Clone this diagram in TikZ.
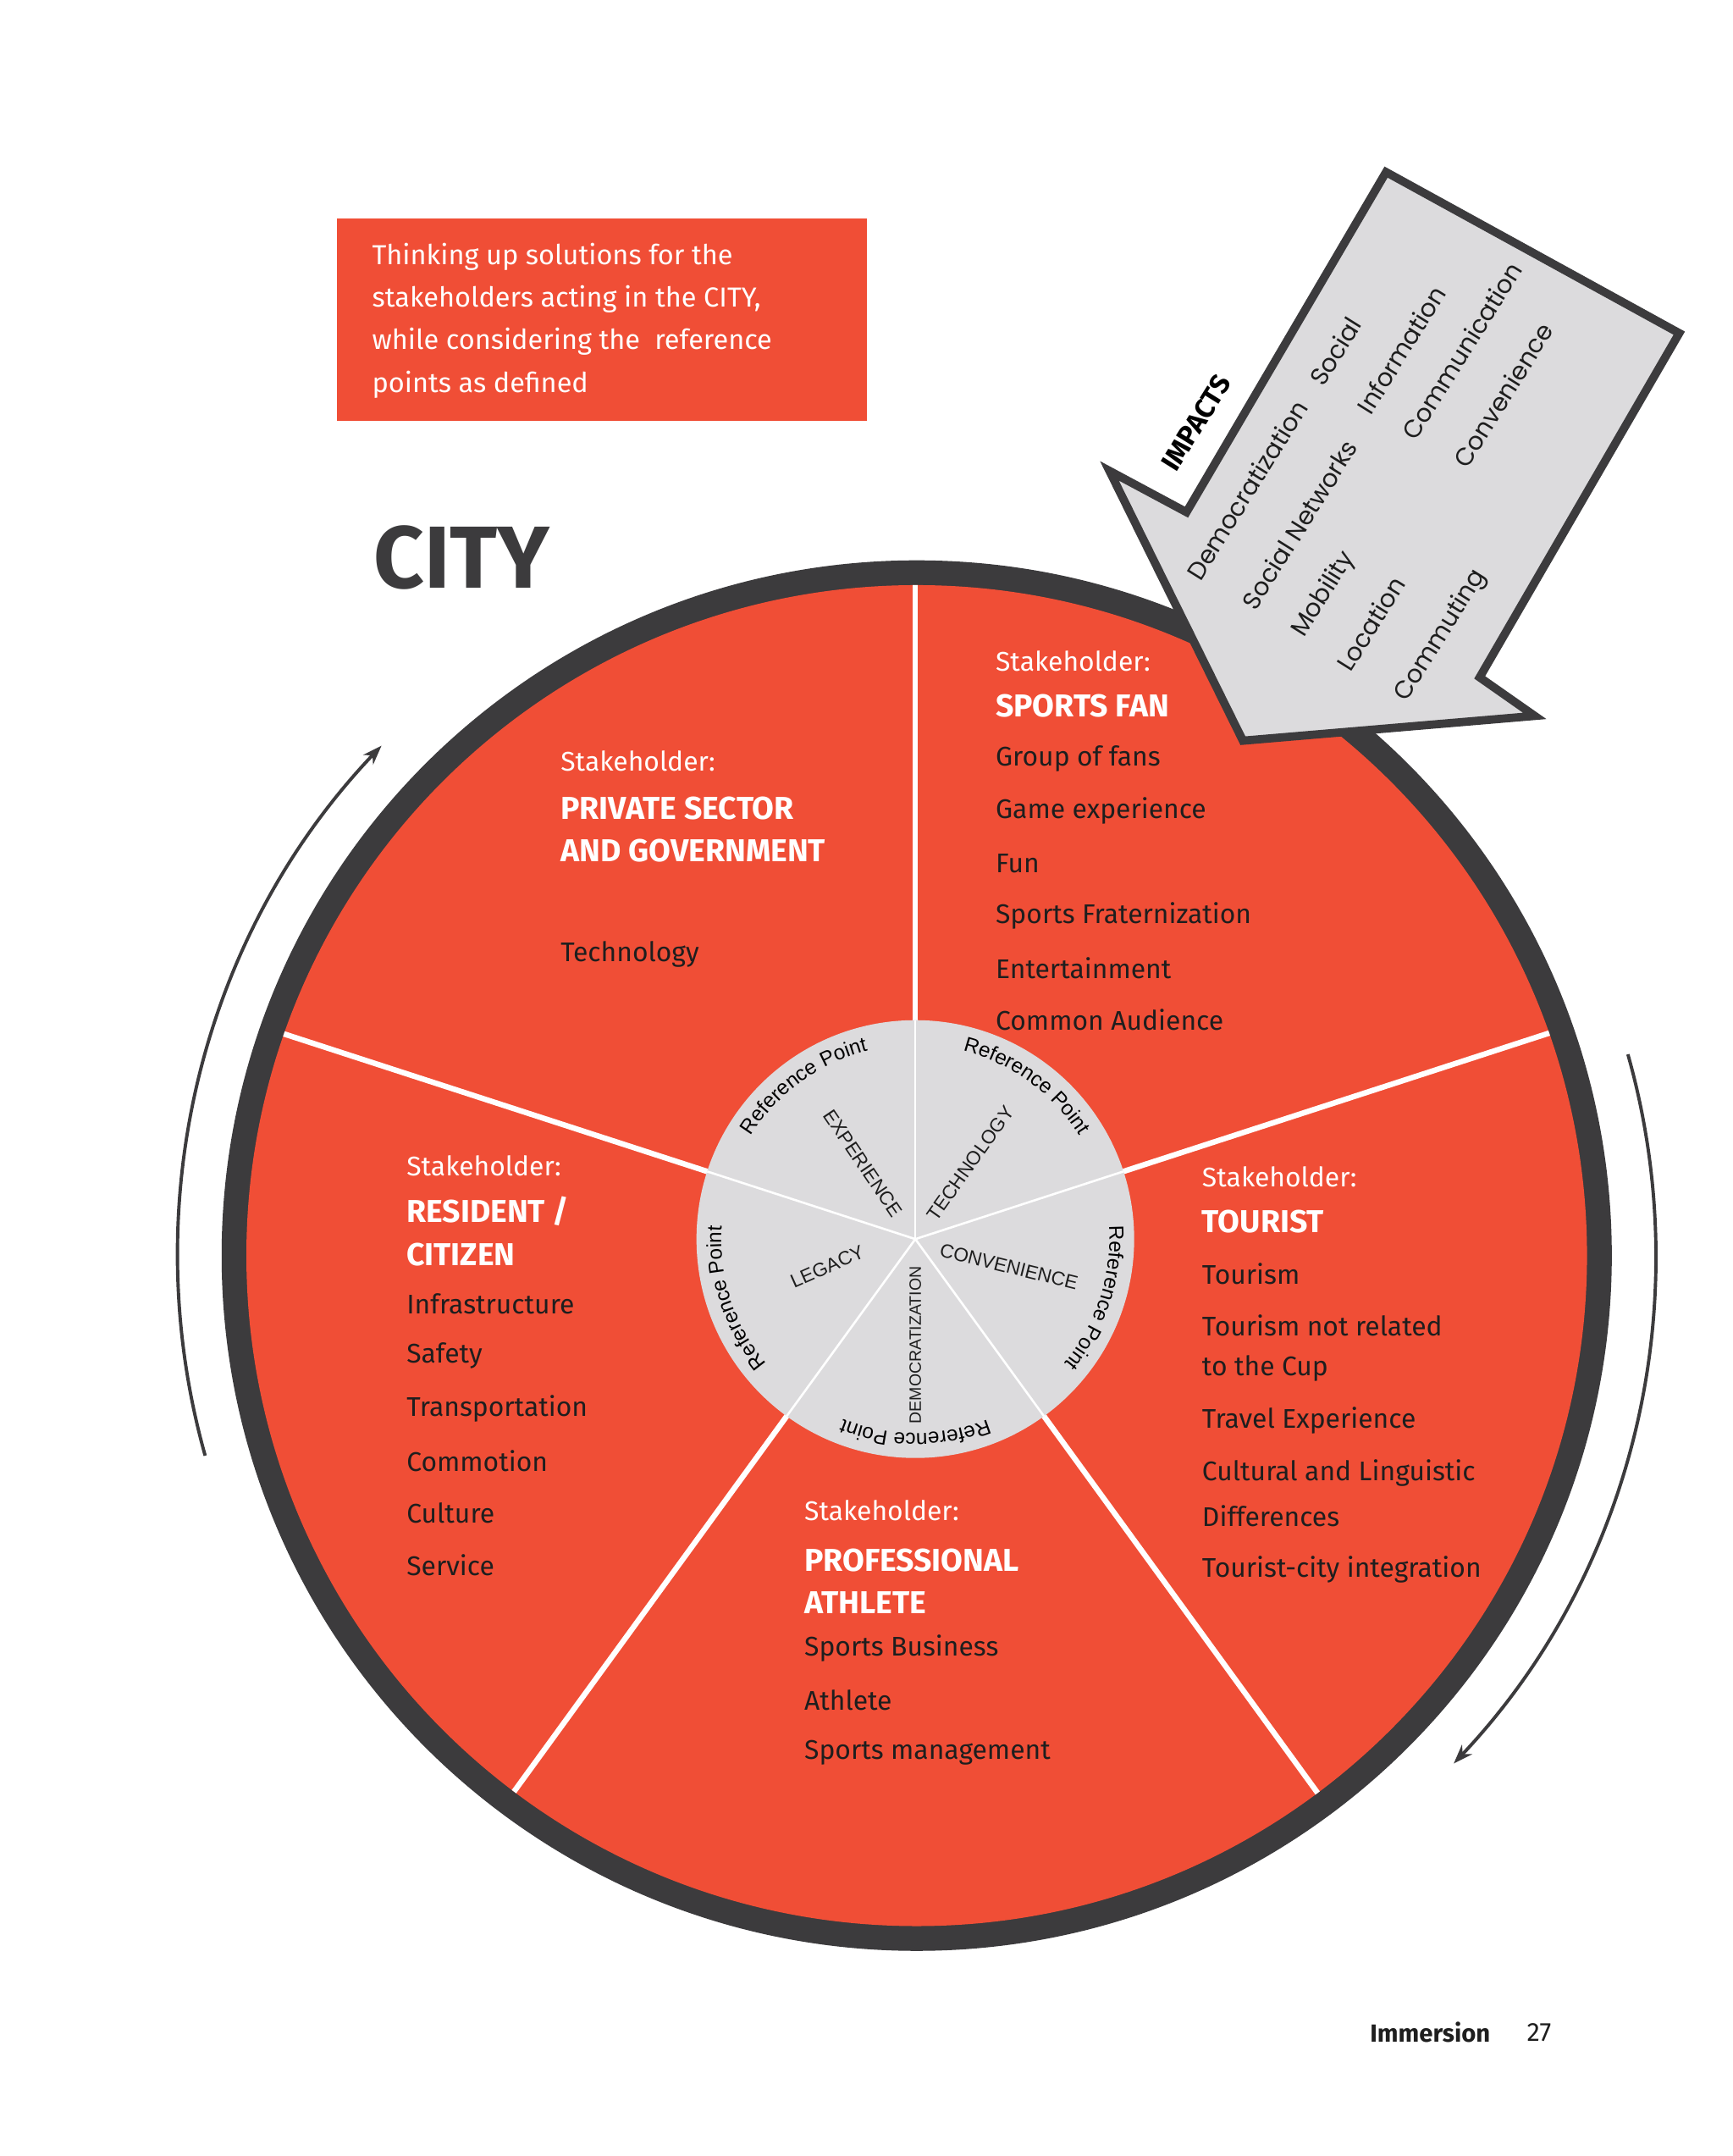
\documentclass[tikz,border=0pt]{standalone}
\usepackage{fontspec}
\setmainfont{Fira Sans}
\newfontfamily\arl{Liberation Sans}
\newfontfamily\pop{Poppins}
\usetikzlibrary{decorations.text,arrows.meta}
\definecolor{cred}{HTML}{F04E36}
\definecolor{cdark}{HTML}{3C3B3D}
\definecolor{cgray}{HTML}{DCDBDD}
\definecolor{ctext}{HTML}{1E1E1E}
\newcommand{\reff}{\arl\fontsize{7.5}{8}\selectfont}
\tikzset{
 stk/.style={anchor=west,inner sep=0pt,text=white,font=\fontsize{9.8}{11}\selectfont},
 hd/.style={anchor=west,inner sep=0pt,text=white,font=\fontsize{11.5}{13}\selectfont\bfseries},
 itm/.style={anchor=west,inner sep=0pt,text=ctext,font=\fontsize{9.8}{11}\selectfont},
 inl/.style={inner sep=0pt,text=ctext,font=\arl\fontsize{7}{8}\selectfont},
 imp/.style={inner sep=0pt,text=ctext,rotate=58,font=\pop\fontsize{9}{10}\selectfont},
 div/.style={white,line width=2pt},
 cyc/.style={cdark,line width=1.2pt,-{Stealth[length=7pt,width=5pt]}}
}
\begin{document}
\begin{tikzpicture}[x=0.5pt,y=0.5pt]
\useasboundingbox (0,0) rectangle (1259,-1566);
\coordinate (o) at (666,-912);
\coordinate (c) at (665,-900);
% top box
\fill[cred] (245,-159) rectangle (630,-306);
\node[anchor=north west,inner sep=0pt,text=white,align=left,font=\fontsize{10}{15.5}\selectfont] (box) at (270,-176)
 {Thinking up solutions for the\\stakeholders acting in the CITY,\\while considering the\ \ reference\\points as defined};
\node[anchor=west,inner sep=0pt,text=cdark,font=\fontsize{32}{34}\selectfont\bfseries] (city) at (271,-405) {CITY};
% wheel
\fill[cdark] (o) circle[radius=252.5pt];
\fill[cred] (o) circle[radius=243.5pt];
\begin{scope}
\clip (o) circle[radius=243.5pt];
\foreach \a in {90,18,162,234,306} \draw[div] (c) -- ++(\a:600);
\end{scope}
\fill[cgray] (c) circle[radius=79.5pt];
\foreach \a in {90,18,162,234,306} \draw[white,line width=0.8pt] (c) -- ++(\a:159);
\foreach \a in {126,54,-18,-90,198}
 \path[overlay,decorate,decoration={text along path,text={|\reff|Reference Point},text align=center}]
  ([shift={(\a+40:141)}]c) arc[start angle=\a+40,end angle=\a-40,radius=70.5pt];
\node[inl,rotate=-56] (exp) at (627,-845) {EXPERIENCE};
\node[inl,rotate=54.5] (tec) at (705,-845) {TECHNOLOGY};
\node[inl,rotate=-14] (con) at (733,-920) {CONVENIENCE};
\node[inl,rotate=90,font=\arl\fontsize{6}{7}\selectfont] (dem) at (665,-977) {DEMOCRATIZATION};
\node[inl,rotate=24] (leg) at (601,-920) {LEGACY};
% sports fan
\node[stk] at (723,-480) {Stakeholder:};
\node[hd] at (723,-513) {SPORTS FAN};
\node[itm] at (723,-551) {Group of fans};
\node[itm] at (723,-589) {Game experience};
\node[itm] at (723,-627) {Fun};
\node[itm] at (723,-665) {Sports Fraternization};
\node[itm] at (723,-703) {Entertainment};
\node[itm] at (723,-741) {Common Audience};
% private
\node[stk] at (407,-553) {Stakeholder:};
\node[hd] at (407,-587) {PRIVATE SECTOR};
\node[hd] at (407,-618) {AND GOVERNMENT};
\node[itm] at (407,-693) {Technology};
% resident
\node[stk] at (295,-847) {Stakeholder:};
\node[hd] at (295,-880) {RESIDENT /};
\node[hd] at (295,-911) {CITIZEN};
\node[itm] at (295,-947) {Infrastructure};
\node[itm] at (295,-985) {Safety};
\node[itm] at (295,-1023) {Transportation};
\node[itm] at (295,-1061) {Commotion};
\node[itm] at (295,-1099) {Culture};
\node[itm] at (295,-1137) {Service};
% tourist
\node[stk] at (873,-855) {Stakeholder:};
\node[hd] at (873,-887) {TOURIST};
\node[itm] at (873,-925) {Tourism};
\node[itm] at (873,-963) {Tourism not related};
\node[itm] at (873,-994) {to the Cup};
\node[itm] at (873,-1032) {Travel Experience};
\node[itm] at (873,-1070) {Cultural and Linguistic};
\node[itm] at (873,-1101) {Differences};
\node[itm] at (873,-1140) {Tourist-city integration};
% athlete
\node[stk] at (584,-1097) {Stakeholder:};
\node[hd] at (584,-1133) {PROFESSIONAL};
\node[hd] at (584,-1164) {ATHLETE};
\node[itm] at (584,-1197) {Sports Business};
\node[itm] at (584,-1235) {Athlete};
\node[itm] at (584,-1273) {Sports management};
% cycle arrows
\draw[cyc] ([shift={(195.7:537)}]o) arc[start angle=195.7,end angle=136.4,radius=268.5pt];
\draw[cyc] ([shift={(15.8:537)}]o) arc[start angle=15.8,end angle=-43.4,radius=268.5pt];
% impacts arrow
\draw[cdark,fill=cgray,line width=3pt,line join=miter] (1007,-125) -- (1220,-242) -- (1075,-492) -- (1115,-520) -- (903,-538) -- (806,-342) -- (862,-372) -- cycle;
\node[imp,font=\fontsize{10}{11}\selectfont\bfseries,text=black] (impacts) at (869,-307) {IMPACTS};
\node[imp] at (906,-356) {Democratization};
\node[imp] at (970,-255) {Social};
\node[imp] at (944,-381) {Social Networks};
\node[imp] at (1018,-254) {Information};
\node[imp] at (962,-432) {Mobility};
\node[imp] at (1062,-255) {Communication};
\node[imp] at (996,-453) {Location};
\node[imp] at (1092,-287) {Convenience};
\node[imp] at (1047,-462) {Commuting};
% footer
\node[anchor=west,inner sep=0pt,text=ctext,font=\fontsize{9}{10}\selectfont\bfseries] (imm) at (995,-1476) {Immersion};
\node[anchor=west,inner sep=0pt,text=ctext,font=\fontsize{9.5}{10}\selectfont] (pg) at (1109,-1476) {27};
\end{tikzpicture}
\end{document}
